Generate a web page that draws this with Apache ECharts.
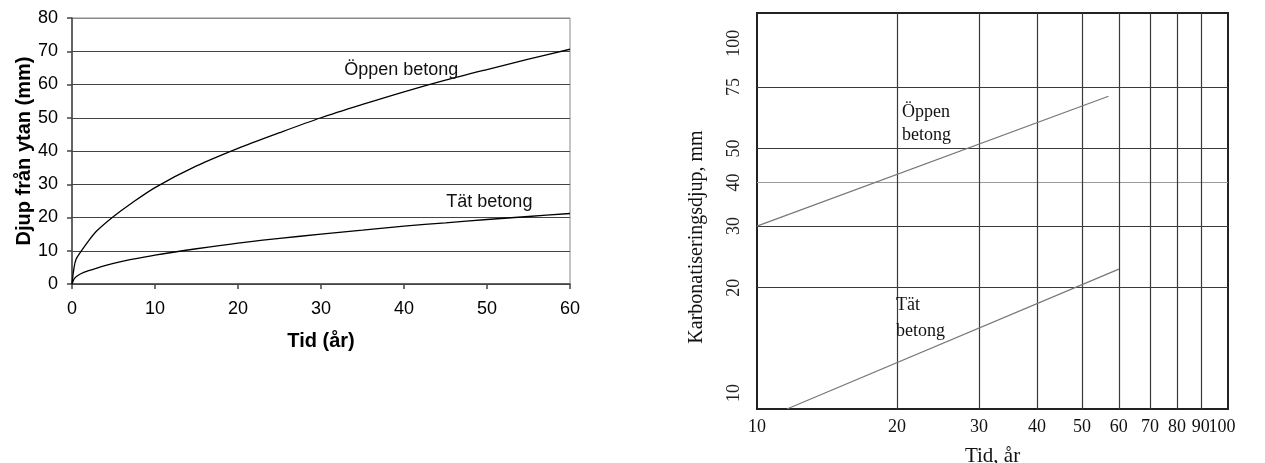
<!DOCTYPE html>
<html>
<head>
<meta charset="utf-8">
<script src="https://cdn.jsdelivr.net/npm/echarts@6/dist/echarts.min.js"></script>
<style>
  html, body { margin: 0; padding: 0; background: #fff; }
  #chart { width: 1265px; height: 463px; }
</style>
</head>
<body>
<div id="chart"></div>
<script>
// left panel: depth from surface vs time (linear axes)
const yearsLin = [0, 0.25, 0.5, 1, 2, 3, 5, 7, 10, 15, 20, 25, 30, 35, 40, 45, 50, 55, 60]
const openLin = [0, 5, 7.5, 9.5, 13, 16, 20.3, 24, 29, 35.5, 40.8, 45.5, 50, 54, 57.8, 61.3, 64.5, 67.6, 70.6]
const denseLin = [0, 1.5, 2.2, 3, 4, 4.8, 6.2, 7.3, 8.7, 10.6, 12.3, 13.7, 15, 16.2, 17.4, 18.4, 19.4, 20.3, 21.2]

// right panel: carbonation depth vs time (log-log)
const openLogX = [10, 57]
const openLogY = [30, 70.5]
const denseLogX = [11.6, 60]
const denseLogY = [9.0, 22.6]
// 100 listed first so the min/max overlap check does not drop "90"
const xTicksLog = [100, 10, 20, 30, 40, 50, 60, 70, 80, 90]
const xGridLog = [20, 30, 40, 50, 60, 70, 80, 90]
const yTicksLog = [10, 20, 30, 40, 50, 75, 100]
const yGridLog = [20, 30, 40, 50, 75]

const SANS = 'Liberation Sans, Arial, sans-serif'
const SERIF = 'Liberation Serif, Times New Roman, serif'

const zip = (xs, ys) => xs.map((x, i) => [x, ys[i]])

const chart = echarts.init(document.getElementById('chart'), null, { renderer: 'canvas' })

// text annotation anchored at a data coordinate (left/middle of the text)
const note = (coord, text, family, size, lh) => ({
    silent: true,
    symbol: 'circle',
    symbolSize: 1,
    itemStyle: { color: 'rgba(0,0,0,0)' },
    label: {
        show: true,
        position: 'inside',
        align: 'left',
        verticalAlign: 'middle',
        formatter: text,
        fontFamily: family,
        fontSize: size,
        lineHeight: lh,
        color: '#111',
    },
    data: [{ coord }],
})

chart.setOption({
    animation: false,
    grid: [
        { left: 72, top: 18, width: 498, height: 266, outerBoundsMode: 'none', show: true, borderColor: '#8a8a8a', borderWidth: 1, backgroundColor: '#fff' },
        { left: 757, top: 13, width: 471, height: 396, outerBoundsMode: 'none', show: true, borderColor: '#222', borderWidth: 2, backgroundColor: '#fff' },
    ],
    xAxis: [
        {
            gridIndex: 0, type: 'value', min: 0, max: 60, interval: 10,
            name: 'Tid (år)', nameLocation: 'middle', nameGap: 47,
            nameTextStyle: { fontFamily: SANS, fontSize: 20, fontWeight: 'bold', color: '#000' },
            axisLine: { show: true, lineStyle: { color: '#444', width: 1.5 } },
            axisTick: { show: true, length: 5, lineStyle: { color: '#444', width: 1.5 } },
            axisLabel: { fontFamily: SANS, fontSize: 18, color: '#000', margin: 16 },
            splitLine: { show: false },
        },
        {
            gridIndex: 1, type: 'log', logBase: 10, min: 10, max: 103,
            name: 'Tid, år', nameLocation: 'middle', nameGap: 37,
            nameTextStyle: { fontFamily: SERIF, fontSize: 21, color: '#111' },
            axisLine: { show: false },
            axisTick: { show: false, customValues: xGridLog },
            axisLabel: {
                customValues: xTicksLog, hideOverlap: false,
                fontFamily: SERIF, fontSize: 18, color: '#111', margin: 9,
            },
            splitLine: { show: true, lineStyle: { color: '#3a3a3a', width: 1.2 } },
        },
    ],
    yAxis: [
        {
            gridIndex: 0, type: 'value', min: 0, max: 80, interval: 10,
            name: 'Djup från ytan (mm)', nameLocation: 'middle', nameGap: 37,
            nameTextStyle: { fontFamily: SANS, fontSize: 20, fontWeight: 'bold', color: '#000' },
            axisLine: { show: true, lineStyle: { color: '#444', width: 1.5 } },
            axisTick: { show: true, length: 5, lineStyle: { color: '#444', width: 1.5 } },
            axisLabel: { fontFamily: SANS, fontSize: 18, color: '#000', margin: 14 },
            splitLine: {
                show: true,
                lineStyle: { color: ['#444', '#444', '#444', '#444', '#444', '#444', '#444', '#444', '#8a8a8a'], width: 1 },
            },
        },
        {
            gridIndex: 1, type: 'log', logBase: 10, min: 9, max: 122,
            name: 'Karbonatiseringsdjup, mm', nameLocation: 'middle', nameGap: 50,
            nameTextStyle: { fontFamily: SERIF, fontSize: 20, color: '#111', padding: [0, 52, 0, 0] },
            axisLine: { show: false },
            axisTick: { show: false, customValues: yGridLog },
            axisLabel: {
                customValues: yTicksLog, showMinLabel: true, showMaxLabel: true,
                rotate: 90, fontFamily: SERIF, fontSize: 18, color: '#222', margin: 14,
            },
            splitLine: {
                show: true,
                lineStyle: { color: ['#3a3a3a', '#3a3a3a', '#9a9a9a', '#3a3a3a', '#3a3a3a'], width: 1.2 },
            },
        },
    ],
    series: [
        {
            name: 'Öppen betong', type: 'line', xAxisIndex: 0, yAxisIndex: 0,
            data: zip(yearsLin, openLin), smooth: 0.3, showSymbol: false,
            lineStyle: { color: '#000', width: 1.3 },
            markPoint: note([32.8, 64.4], 'Öppen betong', SANS, 18, 20),
        },
        {
            name: 'Tät betong', type: 'line', xAxisIndex: 0, yAxisIndex: 0,
            data: zip(yearsLin, denseLin), smooth: 0.3, showSymbol: false,
            lineStyle: { color: '#000', width: 1.3 },
            markPoint: note([45.1, 24.7], 'Tät betong', SANS, 18, 20),
        },
        {
            name: 'Öppen betong (log)', type: 'line', xAxisIndex: 1, yAxisIndex: 1,
            data: zip(openLogX, openLogY), showSymbol: false,
            lineStyle: { color: '#777', width: 1.2 },
            markPoint: note([20.5, 59], 'Öppen\nbetong', SERIF, 18, 23),
        },
        {
            name: 'Tät betong (log)', type: 'line', xAxisIndex: 1, yAxisIndex: 1,
            data: zip(denseLogX, denseLogY), showSymbol: false,
            lineStyle: { color: '#777', width: 1.2 },
            markPoint: note([19.9, 16.4], 'Tät\nbetong', SERIF, 18, 26),
        },
    ],
})
</script>
</body>
</html>
